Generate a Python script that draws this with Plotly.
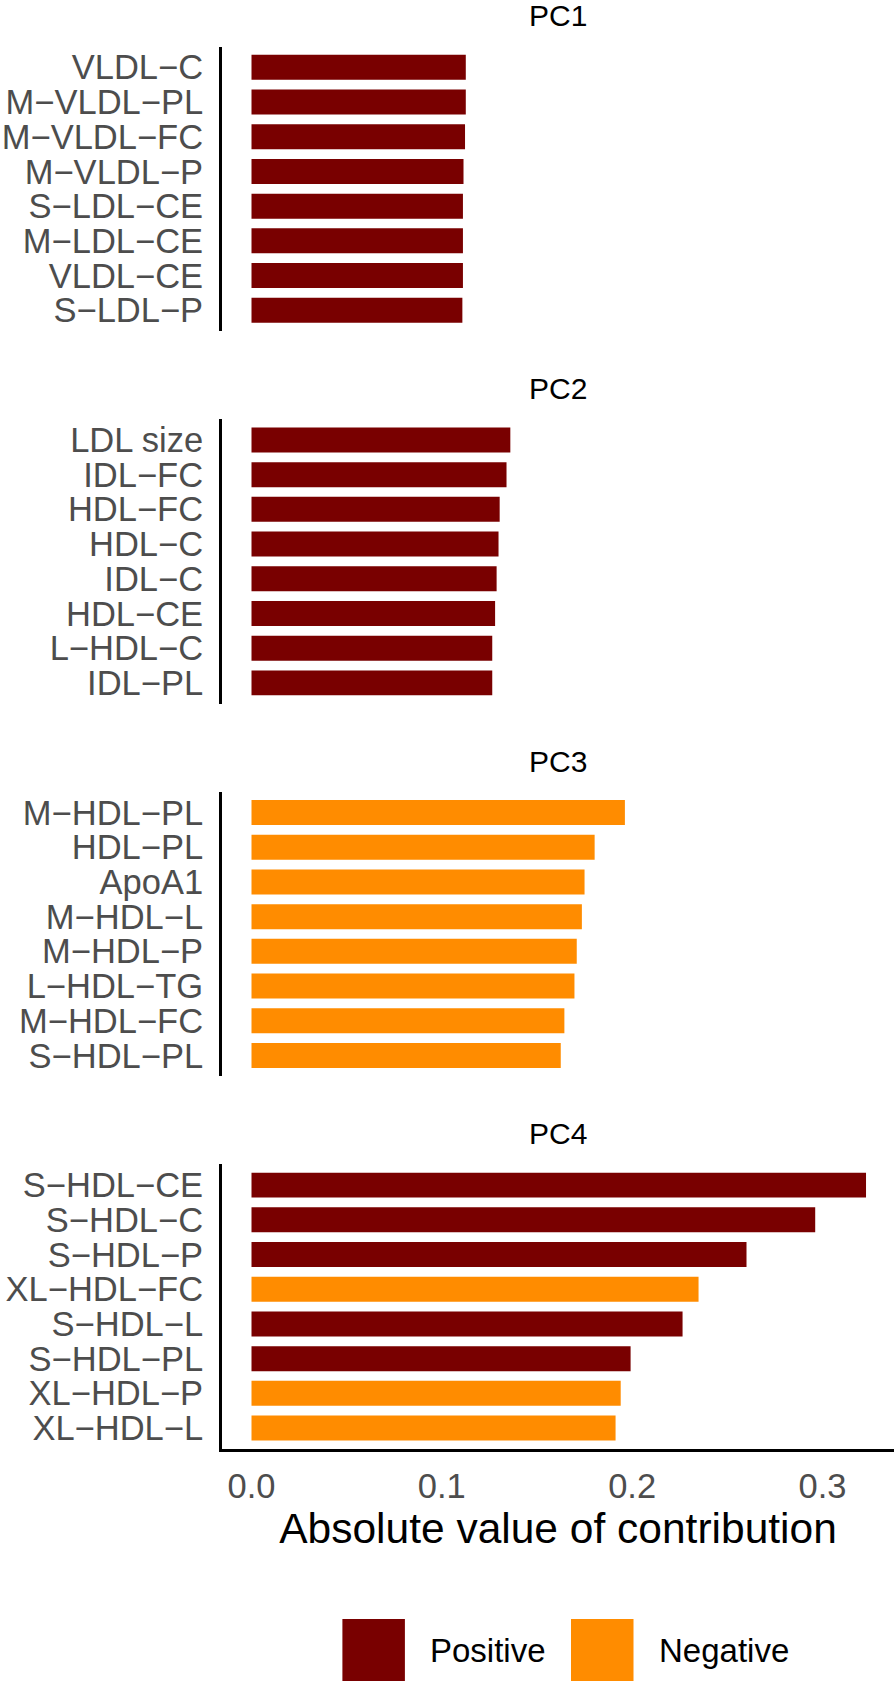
import plotly.graph_objects as go

# contributions (absolute value) of top variables for each principal component
pc_titles = ["PC1", "PC2", "PC3", "PC4"]

pc1_vars = ["VLDL−C", "M−VLDL−PL", "M−VLDL−FC", "M−VLDL−P", "S−LDL−CE", "M−LDL−CE", "VLDL−CE", "S−LDL−P"]
pc1_vals = [0.1126, 0.1126, 0.1122, 0.1114, 0.1111, 0.1111, 0.1111, 0.1108]
pc1_sign = ["Positive", "Positive", "Positive", "Positive", "Positive", "Positive", "Positive", "Positive"]

pc2_vars = ["LDL size", "IDL−FC", "HDL−FC", "HDL−C", "IDL−C", "HDL−CE", "L−HDL−C", "IDL−PL"]
pc2_vals = [0.1360, 0.1340, 0.1304, 0.1298, 0.1288, 0.1280, 0.1265, 0.1265]
pc2_sign = ["Positive", "Positive", "Positive", "Positive", "Positive", "Positive", "Positive", "Positive"]

pc3_vars = ["M−HDL−PL", "HDL−PL", "ApoA1", "M−HDL−L", "M−HDL−P", "L−HDL−TG", "M−HDL−FC", "S−HDL−PL"]
pc3_vals = [0.1962, 0.1803, 0.1750, 0.1736, 0.1709, 0.1697, 0.1644, 0.1625]
pc3_sign = ["Negative", "Negative", "Negative", "Negative", "Negative", "Negative", "Negative", "Negative"]

pc4_vars = ["S−HDL−CE", "S−HDL−C", "S−HDL−P", "XL−HDL−FC", "S−HDL−L", "S−HDL−PL", "XL−HDL−P", "XL−HDL−L"]
pc4_vals = [0.3229, 0.2962, 0.2601, 0.2349, 0.2265, 0.1992, 0.1940, 0.1913]
pc4_sign = ["Positive", "Positive", "Positive", "Negative", "Positive", "Positive", "Negative", "Negative"]

x_ticks = [0.0, 0.1, 0.2, 0.3]
x_ticktext = ["0.0", "0.1", "0.2", "0.3"]

colors = {"Positive": "#790000", "Negative": "#FF8C00"}

W, H = 894, 1681
FONT = "Liberation Sans, Arial, Helvetica, sans-serif"

panels = [
    (pc1_vars, pc1_vals, pc1_sign),
    (pc2_vars, pc2_vals, pc2_sign),
    (pc3_vars, pc3_vals, pc3_sign),
    (pc4_vars, pc4_vals, pc4_sign),
]

# panel placement in pixels (top, bottom)
panel_px = [(46.5, 331.1), (419.1, 703.7), (791.7, 1076.3), (1164.3, 1448.9)]
x_left = 222 / W

fig = go.Figure()

for i, (labels, vals, signs) in enumerate(panels):
    n = "" if i == 0 else str(i + 1)
    fig.add_trace(go.Bar(
        x=vals, y=labels, orientation="h",
        marker=dict(color=[colors[s] for s in signs], line=dict(width=0)),
        xaxis="x" + n, yaxis="y" + n, showlegend=False
    ))
    top, bot = panel_px[i]
    last = i == len(panels) - 1
    fig.update_layout({
        "xaxis" + n: dict(
            domain=[x_left, 1], range=[-0.0155, 0.3376], anchor="y" + n,
            showgrid=False, zeroline=False,
            showline=last, linecolor="black", linewidth=3,
            showticklabels=last, tickmode="array", tickvals=x_ticks, ticktext=x_ticktext,
            ticks="", ticklabelstandoff=5,
            tickfont=dict(family=FONT, size=34.5, color="#4D4D4D"),
            title=dict(text="Absolute value of contribution" if last else "",
                       font=dict(family=FONT, size=42.5, color="black"), standoff=8),
        ),
        "yaxis" + n: dict(
            domain=[1 - bot / H, 1 - top / H], anchor="x" + n,
            type="category", categoryorder="array", categoryarray=labels,
            tickmode="array", tickvals=labels, ticktext=labels,
            range=[7.6, -0.6], showgrid=False, zeroline=False,
            showline=True, linecolor="black", linewidth=3,
            ticks="", ticklabelstandoff=9, automargin=False,
            tickfont=dict(family=FONT, size=34.5, color="#4D4D4D"),
        ),
    })
    fig.add_annotation(
        text=pc_titles[i], x=(x_left + 1) / 2, y=1 - (top - 30.5) / H,
        xref="paper", yref="paper", showarrow=False,
        xanchor="center", yanchor="middle",
        font=dict(family=FONT, size=30, color="black")
    )

# legend drawn as keys + labels below the plot
legend_items = [("Positive", 342.4, 428.0), ("Negative", 571.0, 657.0)]
for name, key_x, text_x in legend_items:
    fig.add_shape(type="rect", xref="paper", yref="paper",
                  x0=key_x / W, x1=(key_x + 62.5) / W,
                  y0=1 - 1681 / H, y1=1 - 1619 / H,
                  fillcolor=colors[name], line=dict(width=0))
    fig.add_annotation(text=name, x=text_x / W, y=1 - 1650 / H,
                       xref="paper", yref="paper", showarrow=False,
                       xanchor="left", yanchor="middle",
                       font=dict(family=FONT, size=33, color="black"))

fig.update_layout(
    width=W, height=H,
    margin=dict(l=0, r=0, t=0, b=0),
    plot_bgcolor="white", paper_bgcolor="white",
    bargap=0.28,
    font=dict(family=FONT),
)

# drop the default page margin so the figure sits at the window corner
fig.write_html("out.html", config={"displayModeBar": False},
               post_script="document.body.style.margin='0';")
